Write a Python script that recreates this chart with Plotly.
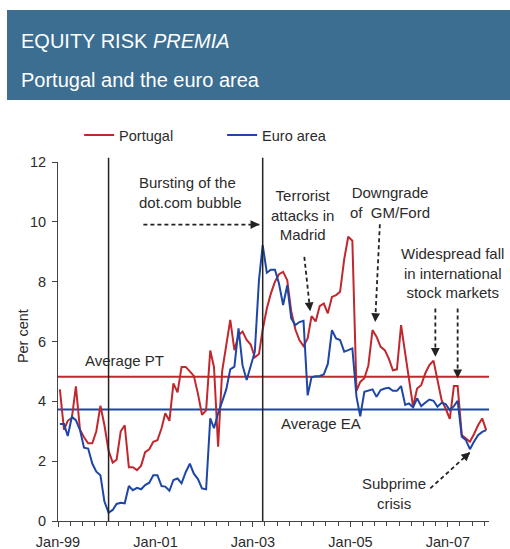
import pandas as pd
import plotly.graph_objects as go

# ---- data (monthly, Jan-1999 .. Oct-2007) ----
start_month = "1999-01-01"
n_months = 106
portugal = [4.4, 3.05, 3.35, 3.45, 4.5, 3.05, 2.8, 2.6, 2.6, 3.0, 3.85, 3.2,
            2.35, 1.95, 2.05, 3.0, 3.2, 1.8, 1.8, 1.7, 1.85, 2.3, 2.4, 2.65,
            2.7, 3.1, 3.6, 3.35, 4.6, 4.3, 5.15, 5.15, 5.0, 4.85, 4.25, 3.55,
            3.7, 5.7, 5.15, 2.48, 5.0, 5.88, 6.72, 5.71, 6.21, 6.33, 6.05, 5.9,
            5.47, 5.58, 6.4, 7.1, 7.6, 8.0, 8.25, 8.33, 8.05, 7.0, 6.4, 6.05,
            5.85, 6.1, 6.85, 6.67, 7.18, 7.27, 6.94, 7.49, 7.55, 7.66, 8.75, 9.5,
            9.37, 4.35, 4.65, 4.77, 5.2, 6.38, 6.16, 5.82, 5.71, 5.43, 5.04, 5.07,
            6.55, 5.6, 4.7, 3.82, 4.43, 4.54, 4.93, 5.21, 5.36, 4.71, 4.04, 3.76,
            3.41, 4.51, 4.51, 2.87, 2.76, 2.65, 2.9, 3.2, 3.43, 3.04]
euro_area = [3.24, 3.24, 2.84, 3.48, 3.37, 3.04, 2.45, 2.42, 1.92, 1.65, 1.53, 0.65,
             0.28, 0.37, 0.57, 0.61, 0.59, 1.17, 1.03, 1.11, 1.06, 1.2, 1.28, 1.53,
             1.53, 1.17, 1.15, 1.01, 1.37, 1.42, 1.26, 1.63, 1.92, 1.58, 1.4, 1.09,
             1.06, 3.43, 3.1, 3.6, 3.99, 4.4, 5.07, 5.16, 6.44, 5.2, 4.71, 5.21,
             5.66, 8.05, 9.22, 8.3, 8.4, 8.4, 7.94, 7.22, 7.88, 6.77, 6.55, 6.65,
             6.69, 4.2, 4.8, 4.84, 4.85, 4.9, 5.25, 6.38, 6.1, 6.05, 5.66, 5.71,
             5.77, 4.15, 3.5, 4.32, 4.35, 4.4, 4.15, 4.38, 4.43, 4.45, 4.35, 4.35,
             4.51, 3.88, 3.93, 3.8, 4.1, 3.84, 3.95, 4.06, 4.02, 3.82, 3.95, 3.91,
             3.71, 3.84, 4.02, 2.82, 2.71, 2.4, 2.65, 2.87, 2.98, 3.04]
average_pt = 4.82
average_ea = 3.73
event_lines = ["2000-01-15", "2003-03-15"]
x_range = ["1999-01-01", "2007-11-05"]

months = pd.date_range(start_month, periods=n_months, freq="MS") + pd.Timedelta(days=14)

RED = "#c0282e"
BLUE = "#1d46a6"
TXT = "#2b2b2b"
FONT = "Liberation Sans, Arial, sans-serif"

fig = go.Figure()
fig.add_trace(go.Scatter(x=months, y=portugal, name="Portugal", mode="lines",
                         line=dict(color=RED, width=2)))
fig.add_trace(go.Scatter(x=months, y=euro_area, name="Euro area", mode="lines",
                         line=dict(color=BLUE, width=2)))

# average lines
fig.add_hline(y=average_pt, line=dict(color=RED, width=2), layer="below")
fig.add_hline(y=average_ea, line=dict(color=BLUE, width=2), layer="below")

# event vertical lines
for d in event_lines:
    fig.add_shape(type="line", xref="x", yref="paper", x0=d, x1=d, y0=0, y1=1.012,
                  line=dict(color="#222222", width=1.5))

# title banner
fig.add_shape(type="rect", xref="paper", yref="paper", x0=-0.1183, x1=1.06,
              y0=1.1727, y1=1.4234, fillcolor="#3c6e92", line=dict(width=0), layer="below")
fig.add_annotation(xref="paper", yref="paper", x=-0.0905, y=1.3379, xanchor="left",
                   yanchor="middle", showarrow=False,
                   text="EQUITY RISK <i>PREMIA</i>", font=dict(family=FONT, size=20, color="white"))
fig.add_annotation(xref="paper", yref="paper", x=-0.0905, y=1.2284, xanchor="left",
                   yanchor="middle", showarrow=False,
                   text="Portugal and the euro area", font=dict(family=FONT, size=20, color="white"))

# y-axis title
fig.add_annotation(xref="paper", yref="paper", x=-0.0812, y=0.515, xanchor="center",
                   yanchor="middle", showarrow=False, textangle=-90, text="Per cent",
                   font=dict(family=FONT, size=14.5, color=TXT))

# text annotations
texts = [
    ("2000-08-16", 10.99, "Bursting of the<br>dot.com bubble", "left", "left"),
    ("2004-01-04", 10.22, "Terrorist<br>attacks in<br>Madrid", "center", "center"),
    ("2005-10-21", 10.65, "Downgrade<br>of\u00a0 GM/Ford", "center", "center"),
    ("2007-02-04", 8.29, "Widespread fall<br>in international<br>stock markets", "center", "center"),
    ("2005-11-20", 0.935, "Subprime<br>crisis", "center", "center"),
    ("1999-07-06", 5.38, "Average PT", "left", "left"),
    ("2003-07-16", 3.26, "Average EA", "left", "left"),
]
for x, y, t, xa, al in texts:
    fig.add_annotation(x=x, y=y, text=t, showarrow=False, xanchor=xa, yanchor="middle",
                       align=al, font=dict(family=FONT, size=15, color=TXT))

# dashed arrows: (tail, head, head-direction pixel offset)
arrows = [
    (("2000-10-02", 9.91), ("2003-02-18", 9.91), (-8, 0)),
    (("2004-01-21", 8.83), ("2004-03-05", 7.01), (-1, -8)),
    (("2005-08-09", 9.92), ("2005-07-05", 6.65), (0.4, -8)),
    (("2006-09-29", 7.10), ("2006-09-29", 5.49), (0, -8)),
    (("2007-03-15", 7.10), ("2007-03-15", 4.77), (0, -8)),
    (("2006-08-22", 1.09), ("2007-06-17", 2.30), (-6, 5.4)),
]
for (tx, ty), (hx, hy), (ax, ay) in arrows:
    fig.add_shape(type="line", xref="x", yref="y", x0=tx, y0=ty, x1=hx, y1=hy,
                  line=dict(color="#222222", width=1.8, dash="4px,3px"))
    fig.add_annotation(x=hx, y=hy, ax=ax, ay=ay, text="", showarrow=True,
                       arrowhead=2, arrowsize=1.1, arrowwidth=1.6, arrowcolor="#222222",
                       standoff=0)

fig.update_layout(
    width=510, height=549,
    margin=dict(l=58, r=21, t=162, b=28, autoexpand=False),
    paper_bgcolor="white", plot_bgcolor="white",
    font=dict(family=FONT, size=14, color=TXT),
    showlegend=True,
    legend=dict(orientation="h", x=0.049, y=1.075, xanchor="left", yanchor="middle",
                font=dict(family=FONT, size=14.5, color=TXT), itemwidth=30,
                entrywidth=98, bgcolor="rgba(0,0,0,0)"),
)
fig.update_xaxes(type="date", range=x_range, showgrid=False, zeroline=False,
                 automargin=False,
                 showline=True, linecolor="#444444", linewidth=1,
                 ticks="outside", ticklen=5, tickcolor="#444444",
                 ticklabelstandoff=3,
                 tick0="1999-01-01", dtick="M24", tickformat="%b-%y",
                 tickfont=dict(family=FONT, size=14.5, color=TXT),
                 minor=dict(ticks="outside", ticklen=4, dtick="M3", tick0="1999-01-01",
                            tickcolor="#444444", showgrid=False))
fig.update_yaxes(range=[0, 12], dtick=2, showgrid=False, zeroline=False,
                 automargin=False,
                 showline=True, linecolor="#444444", linewidth=1,
                 ticks="outside", ticklen=5, tickcolor="#444444",
                 ticklabelstandoff=3,
                 tickfont=dict(family=FONT, size=14.5, color=TXT))

# remove the page's default body margin so the 510x549 figure fills the window
fig.write_html("out.html", config={"displayModeBar": False},
               post_script="document.body.style.margin='0';document.body.style.overflow='hidden';")
